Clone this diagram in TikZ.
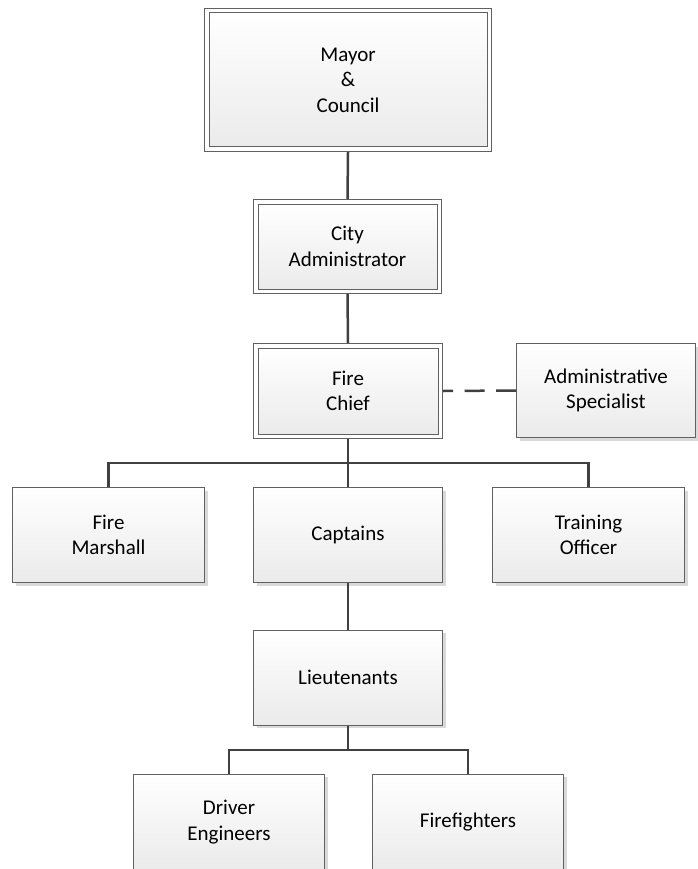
\documentclass[tikz,border=0pt]{standalone}
\usepackage{fontspec}
\setmainfont{Carlito}
\usetikzlibrary{shadows}
\begin{document}
\begin{tikzpicture}[x=1pt,y=-1pt,
  box/.style={rectangle, draw=black!62, line width=1pt, top color=white, bottom color=black!8,
    align=center, font=\fontsize{21}{25.5}\selectfont, text=black, inner sep=0pt, outer sep=0.5pt,
    drop shadow={shadow xshift=3pt, shadow yshift=-3pt, fill=black!15, opacity=1}},
  dbox/.style={box, double=white, double distance=3.5pt, outer sep=2.75pt},
  conn/.style={draw=black!75, line width=2.5pt}]
\useasboundingbox (0,0) rectangle (697,869);
\node[dbox, minimum width=282.5pt, minimum height=138.5pt] (mayor) at (348,80) {Mayor\\\&\\Council};
\node[dbox, minimum width=183.5pt, minimum height=89.5pt] (city) at (347.5,246.5) {City\\Administrator};
\node[dbox, minimum width=184.5pt, minimum height=90.5pt] (chief) at (348,391) {Fire\\Chief};
\node[box, minimum width=179pt, minimum height=94pt] (admin) at (606,390.5) {Administrative\\Specialist};
\node[box, minimum width=192pt, minimum height=95pt] (marshall) at (108.5,535) {Fire\\Marshall};
\node[box, minimum width=189pt, minimum height=95pt] (captains) at (348,535) {Captains};
\node[box, minimum width=192pt, minimum height=95pt] (training) at (588.5,535) {Training\\Officer};
\node[box, minimum width=189pt, minimum height=95pt] (lieut) at (348,677.5) {Lieutenants};
\node[box, minimum width=191pt, minimum height=96pt] (driver) at (229,822) {Driver\\Engineers};
\node[box, minimum width=191pt, minimum height=96pt] (fire) at (468,822) {Firefighters};
\coordinate (bus1) at (348,463);
\coordinate (bus2) at (348,750);
\draw[conn] (mayor.south) -- (city.north);
\draw[conn] (city.south) -- (chief.north);
\draw[conn, dash pattern=on 20pt off 11.5pt, dash phase=10pt] (chief.east) -- (admin.west);
\draw[conn] (chief.south) -- (bus1);
\draw[conn] (marshall.north) |- (bus1) -| (training.north);
\draw[conn] (bus1) -- (captains.north);
\draw[conn] (captains.south) -- (lieut.north);
\draw[conn] (lieut.south) -- (bus2);
\draw[conn] (driver.north) |- (bus2) -| (fire.north);
\end{tikzpicture}
\end{document}
